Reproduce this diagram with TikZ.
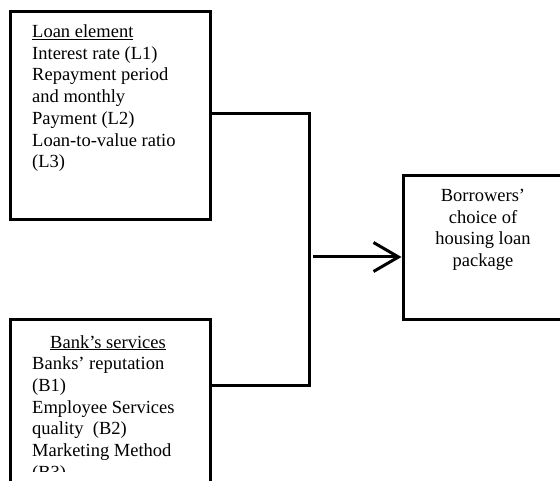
\documentclass[tikz,border=0pt]{standalone}
\usepackage{fontspec}
\setmainfont{Liberation Serif}
\usetikzlibrary{arrows.meta}
\begin{document}
\begin{tikzpicture}[x=1pt,y=-1pt,
  box/.style={draw=black, line width=3pt, line join=miter, rectangle, inner sep=0pt, fill=white},
  conn/.style={draw=black, line width=3pt, line join=miter},
  txt/.style={inner sep=0pt, font=\fontsize{18.5}{21.7}\selectfont},
]
\useasboundingbox (0,0) rectangle (560,481);
\clip (0,0) rectangle (560,481);
\fill[white] (0,0) rectangle (560,481);
% boxes
\node[box, minimum width=200pt, minimum height=208pt] (L) at (110,116) {};
\node[box, minimum width=200pt, minimum height=240pt] (B) at (110,440) {};
\node[box, minimum width=257pt, minimum height=144pt] (R) at (531.5,248) {};
% texts
\node[txt, anchor=north west, align=left] (Ltext) at (32,24.5)
  {\underline{Loan element}\\Interest rate (L1)\\Repayment period\\and monthly\\Payment (L2)\\Loan-to-value ratio\\(L3)};
\begin{scope}
\clip (12,322) rectangle (208,471);
\node[txt, anchor=north west, align=left] (Btext) at (32,335)
  {\hspace*{18pt}\underline{Bank’s services}\\Banks’ reputation\\(B1)\\Employee Services\\quality\ \ (B2)\\Marketing Method\\(B3)};
\end{scope}
\node[txt, anchor=north, align=center] (Rtext) at (483,189)
  {Borrowers’\\choice of\\housing loan\\package};
% connectors
\coordinate (j1) at (309,114);
\coordinate (j2) at (309,385);
\coordinate (ja) at (313,257);
\draw[conn] (L.east |- j1) -- (j1) -- (j2) -- (B.east |- j2);
\draw[conn, -{Straight Barb[length=25pt, width=29pt, line width=3pt]}] (ja) -- (ja -| R.west);
\end{tikzpicture}
\end{document}
